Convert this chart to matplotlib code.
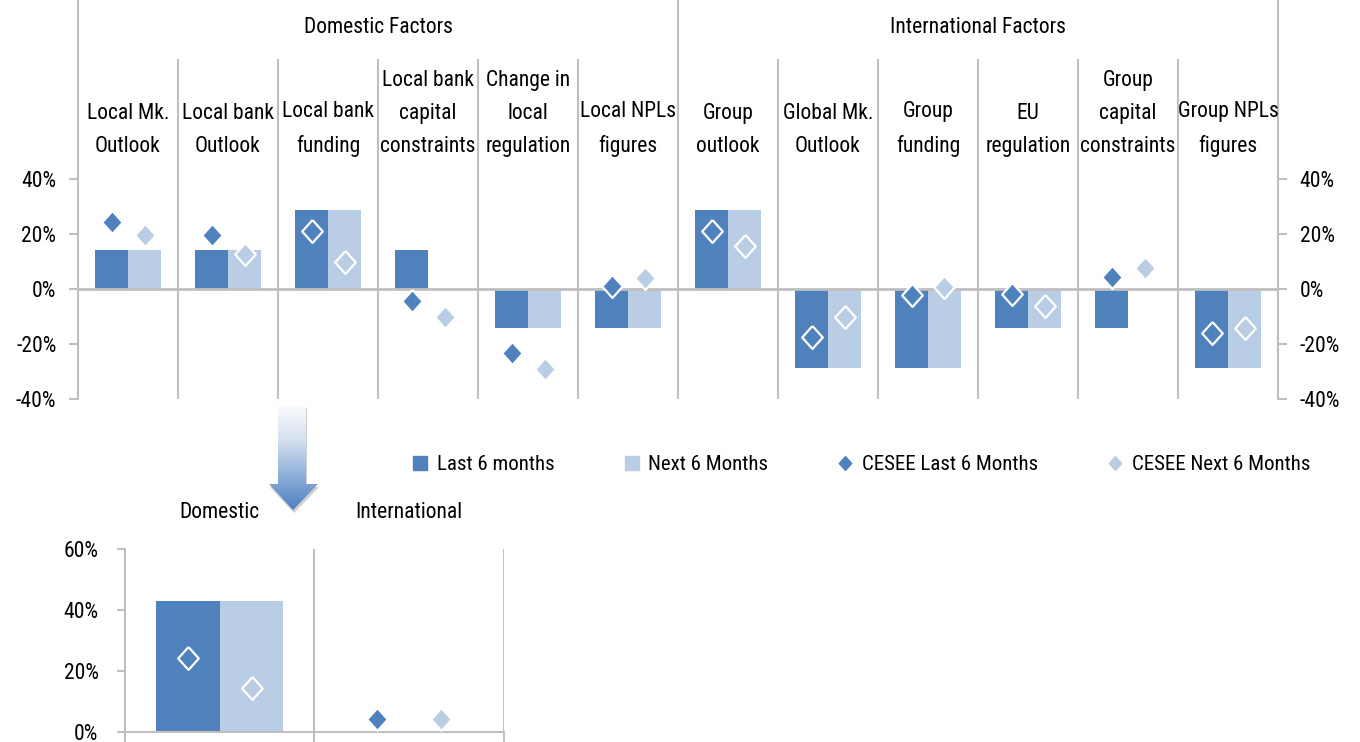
import numpy as np
import matplotlib
matplotlib.use('Agg')
import matplotlib.pyplot as plt
from matplotlib import font_manager
from matplotlib.lines import Line2D
from matplotlib.patches import Polygon

# pick a condensed font if there is one
names = {f.name for f in font_manager.fontManager.ttflist}
font = 'Liberation Sans'
for cand in ['Liberation Sans Narrow', 'Roboto Condensed', 'Open Sans Condensed',
             'Noto Sans Condensed', 'DejaVu Sans Condensed']:
    if cand in names:
        font = cand
        break
plt.rcParams['font.family'] = [font, 'DejaVu Sans']

# Top chart data (percent)
categories = ['Local Mk.\nOutlook', 'Local bank\nOutlook', 'Local bank\nfunding',
              'Local bank\ncapital\nconstraints', 'Change in\nlocal\nregulation',
              'Local NPLs\nfigures', 'Group\noutlook', 'Global Mk.\nOutlook',
              'Group\nfunding', 'EU\nregulation', 'Group\ncapital\nconstraints',
              'Group NPLs\nfigures']
groups = ['Domestic Factors', 'International Factors']
last_6 = [14.3, 14.3, 28.6, 14.3, -14.3, -14.3, 28.6, -28.6, -28.6, -14.3, -14.3, -28.6]
next_6 = [14.3, 14.3, 28.6, 0.0, -14.3, -14.3, 28.6, -28.6, -28.6, -14.3, 0.0, -28.6]
cesee_last = [24.4, 19.8, 21.2, -4.5, -23.1, 1.0, 21.2, -17.3, -2.2, -1.8, 4.5, -16.1]
cesee_next = [19.8, 12.6, 9.9, -10.1, -29.0, 4.1, 15.7, -10.1, 0.9, -6.1, 7.7, -14.3]
top_ticks = [-40, -20, 0, 20, 40]

# Bottom chart data (percent)
summary_cats = ['Domestic', 'International']
sum_last = [42.9, 0.0]
sum_next = [42.9, 0.0]
sum_cesee_last = [24.3, 4.1]
sum_cesee_next = [14.4, 4.1]
bottom_ticks = [0, 20, 40, 60]

legend_labels = ['Last 6 months', 'Next 6 Months', 'CESEE Last 6 Months', 'CESEE Next 6 Months']

DARK = '#4F81BD'
LIGHT = '#B9CDE5'
GRID = '#BFBFBF'
FS = 15.5

# slightly tall diamond
DIAMOND = [(0, 1), (0.9, 0), (0, -1), (-0.9, 0), (0, 1)]
MS = 16.5

W, H = 1360, 742
fig = plt.figure(figsize=(W / 100, H / 100), dpi=100)


def frac(x0, y0, x1, y1):
    # pixel box (top-left origin) -> figure fraction rect
    return [x0 / W, (H - y1) / H, (x1 - x0) / W, (y1 - y0) / H]


def pct(v, pos=None):
    return '%d%%' % v


# ---------- top chart ----------
ax = fig.add_axes(frac(78, 0, 1278, 399))
n = len(categories)
x = np.arange(n)
bw = 0.33
ax.bar(x - bw / 2, last_6, width=bw, color=DARK, linewidth=0, zorder=2)
ax.bar(x + bw / 2, next_6, width=bw, color=LIGHT, linewidth=0, zorder=2)
ax.plot(x - bw / 2, cesee_last, linestyle='none', marker=DIAMOND, markersize=MS,
        color=DARK, markeredgecolor='white', markeredgewidth=1.6, zorder=4)
ax.plot(x + bw / 2, cesee_next, linestyle='none', marker=DIAMOND, markersize=MS,
        color=LIGHT, markeredgecolor='white', markeredgewidth=1.6, zorder=4)

ymax = 289 / 2.75
ax.set_xlim(-0.5, n - 0.5)
ax.set_ylim(-40, ymax)
ax.axhline(0, color=GRID, lw=2, zorder=3)

# category dividers
for b in np.arange(0.5, n - 0.5, 1.0):
    top = ymax if b == 5.5 else 83.3
    ax.plot([b, b], [-40, top], color=GRID, lw=1.5, zorder=1)

for s in ['top', 'bottom']:
    ax.spines[s].set_visible(False)
for s in ['left', 'right']:
    ax.spines[s].set_color(GRID)
    ax.spines[s].set_linewidth(1.5)
ax.set_xticks([])
ax.set_yticks(top_ticks)
ax.yaxis.set_major_formatter(plt.FuncFormatter(pct))
ax.tick_params(axis='y', which='both', left=True, right=True, labelleft=True,
               labelright=True, color=GRID, width=1.5, length=6.5, labelsize=FS, pad=9)

for i, c in enumerate(categories):
    ax.text(i, 48.0, c, ha='center', va='bottom', fontsize=FS, linespacing=1.75)
ax.text(2.5, 95.0, groups[0], ha='center', va='center', fontsize=FS)
ax.text(8.5, 95.0, groups[1], ha='center', va='center', fontsize=FS)

# ---------- legend ----------
handles = [
    Line2D([], [], linestyle='none', marker='s', markersize=10, color=DARK),
    Line2D([], [], linestyle='none', marker='s', markersize=10, color=LIGHT),
    Line2D([], [], linestyle='none', marker=DIAMOND, markersize=10, color=DARK),
    Line2D([], [], linestyle='none', marker=DIAMOND, markersize=10, color=LIGHT),
]
fig.legend(handles, legend_labels, loc='center left', bbox_to_anchor=(412 / W, (H - 465) / H),
           ncol=4, frameon=False, fontsize=15, handlelength=0.8, handletextpad=0.4,
           columnspacing=3.3, borderaxespad=0, borderpad=0)

# ---------- bottom chart ----------
ax2 = fig.add_axes(frac(125, 548.7, 503.6, 731.7))
m = len(summary_cats)
x2 = np.arange(m)
bw2 = 0.337
ax2.bar(x2 - bw2 / 2, sum_last, width=bw2, color=DARK, linewidth=0, zorder=2)
ax2.bar(x2 + bw2 / 2, sum_next, width=bw2, color=LIGHT, linewidth=0, zorder=2)
ax2.plot(x2 - bw2 / 2, sum_cesee_last, linestyle='none', marker=DIAMOND, markersize=MS,
         color=DARK, markeredgecolor='white', markeredgewidth=1.6, zorder=4, clip_on=False)
ax2.plot(x2 + bw2 / 2, sum_cesee_next, linestyle='none', marker=DIAMOND, markersize=MS,
         color=LIGHT, markeredgecolor='white', markeredgewidth=1.6, zorder=4, clip_on=False)
ax2.set_xlim(-0.5, m - 0.5)
ax2.set_ylim(0, 60)
for b in np.arange(0.5, m, 1.0):
    ax2.plot([b, b], [0, 60], color=GRID, lw=1.5, zorder=1)
for s in ['top', 'right']:
    ax2.spines[s].set_visible(False)
for s in ['left', 'bottom']:
    ax2.spines[s].set_color(GRID)
    ax2.spines[s].set_linewidth(1.5)
ax2.set_yticks(bottom_ticks)
ax2.yaxis.set_major_formatter(plt.FuncFormatter(pct))
ax2.set_xticks(np.arange(-0.5, m, 1.0))
ax2.set_xticklabels([])
ax2.tick_params(axis='y', color=GRID, width=1.5, length=6, labelsize=FS, pad=13)
ax2.tick_params(axis='x', color=GRID, width=1.5, length=12)
for i, c in enumerate(summary_cats):
    ax2.text(i, 72, c, ha='center', va='center', fontsize=FS, clip_on=False)

# ---------- gradient arrow ----------
ax3 = fig.add_axes(frac(262, 400, 324, 522))
ax3.set_xlim(0, 62)
ax3.set_ylim(0, 122)
ax3.axis('off')
ox, oy = 262, 522
raw = np.array([[278, 405], [306, 405], [306, 484], [318, 484], [293, 510],
                [269, 484], [278, 484]], dtype=float)
pts = np.column_stack([raw[:, 0] - ox, oy - raw[:, 1]])
shadow = Polygon(pts + [1.0, -3.0], closed=True, facecolor='#a0a0a0', edgecolor='none',
                 alpha=0.5, zorder=0)
ax3.add_patch(shadow)
cmap = matplotlib.colors.LinearSegmentedColormap.from_list(
    'arr', ['#fbfcfe', '#d6e1f0', '#8fb0d9', '#5080c0'])
grad = cmap(np.linspace(0, 1, 200))[:, None, :]
im = ax3.imshow(grad, aspect='auto', extent=[0, 62, 122 - 110, 122 - 5],
                origin='upper', zorder=1, interpolation='bilinear')
clip = Polygon(pts, closed=True, transform=ax3.transData, facecolor='none', edgecolor='none')
im.set_clip_path(clip)

fig.savefig('out.png', dpi=100)
